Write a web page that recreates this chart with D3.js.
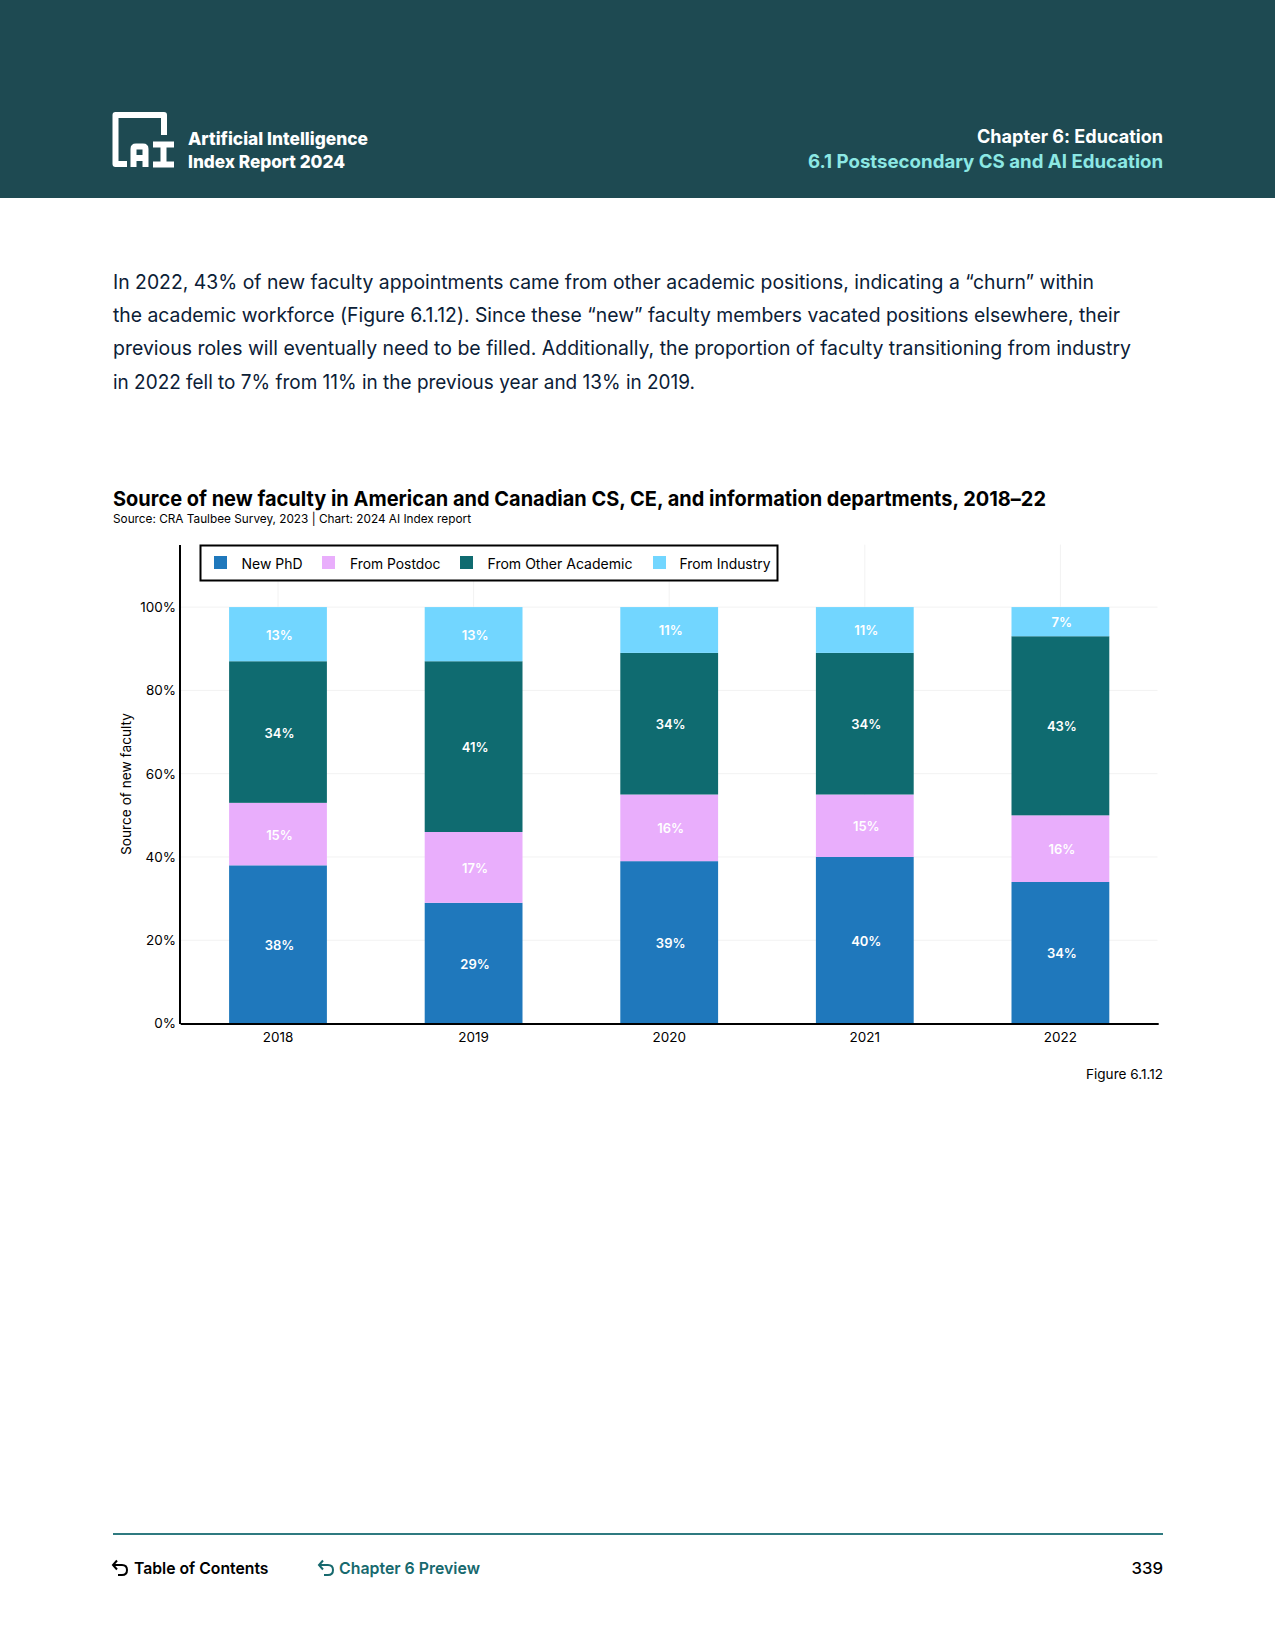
<!DOCTYPE html>
<html><head><meta charset="utf-8">
<script src="https://cdn.jsdelivr.net/npm/d3@7"></script>
<style>html,body{margin:0;padding:0;background:#fff}svg{display:block}text{font-family:Inter,sans-serif;font-variant-ligatures:none}</style>
</head><body><svg id="c" width="1275" height="1650"></svg>
<script>
const years=["2018","2019","2020","2021","2022"];
const seriesNames=["New PhD","From Postdoc","From Other Academic","From Industry"];
const newPhD=[38,29,39,40,34];
const fromPostdoc=[15,17,16,15,16];
const fromOtherAcademic=[34,41,34,34,43];
const fromIndustry=[13,13,11,11,7];
const colors=["#1f78bc","#e9aefc","#0f6b70","#72d6ff"];
const yTicks=[0,20,40,60,80,100];
const bodyLines=["In 2022, 43% of new faculty appointments came from other academic positions, indicating a “churn” within",
"the academic workforce (Figure 6.1.12). Since these “new” faculty members vacated positions elsewhere, their",
"previous roles will eventually need to be filled. Additionally, the proportion of faculty transitioning from industry",
"in 2022 fell to 7% from 11% in the previous year and 13% in 2019."];
const bodyWidths=[981,1007,1018,582];

const svg=d3.select("#c");
function T(x,y,s,o={}){const t=svg.append("text").attr("x",x).attr("y",y).text(s)
 .attr("font-size",o.size||14).attr("fill",o.fill||"#000").attr("font-weight",o.weight||400).attr("text-anchor",o.anchor||"start");
 if(o.width)t.attr("textLength",o.width).attr("lengthAdjust","spacingAndGlyphs");return t;}

// header
svg.append("rect").attr("width",1275).attr("height",198).attr("fill","#1e4a52");
svg.append("path").attr("d","M164 135V115H115.5V164H127").attr("fill","none").attr("stroke","#fff").attr("stroke-width",6).attr("stroke-linejoin","round");
svg.append("path").attr("d","M133.500 167V149Q133.500 146.500 136 146.500H143Q145.500 146.500 145.500 149V167M133.500 158H145.500M153 144.500H174M163.500 144.500V164.500M153 164.500H174").attr("fill","none").attr("stroke","#fff").attr("stroke-width",6);
T(188,144.500,"Artificial Intelligence",{size:18,weight:800,fill:"#fff",width:180});
T(188,167.500,"Index Report 2024",{size:18,weight:800,fill:"#fff",width:157});
T(1163,143,"Chapter 6: Education",{size:18.500,weight:700,fill:"#fff",anchor:"end",width:186});
T(1163,168,"6.1 Postsecondary CS and AI Education",{size:18.500,weight:700,fill:"#8ce8e4",anchor:"end",width:355});

// body
bodyLines.forEach((s,i)=>T(113,288.500+i*33.4,s,{size:20,fill:"#0b2036",width:bodyWidths[i]}));

// title
T(113,506,"Source of new faculty in American and Canadian CS, CE, and information departments, 2018–22",{size:20.500,weight:700,width:933});
T(113,523,"Source: CRA Taulbee Survey, 2023 | Chart: 2024 AI Index report",{size:12,width:358});

// chart
const x=d3.scaleBand().domain(years).range([180.2,1158.2]).paddingInner(0.5).paddingOuter(0.25);
const y=d3.scaleLinear().domain([0,115]).range([1023.6,544.6]);
const gx=svg.append("g").attr("stroke","#f2f2f2");
years.forEach(d=>gx.append("line").attr("x1",x(d)+x.bandwidth()/2).attr("x2",x(d)+x.bandwidth()/2).attr("y1",y(115)).attr("y2",y(0)));
yTicks.slice(1).forEach(d=>gx.append("line").attr("x1",179.5).attr("x2",1157.5).attr("y1",y(d)).attr("y2",y(d)));

const rows=years.map((yr,i)=>({yr,a:newPhD[i],b:fromPostdoc[i],c:fromOtherAcademic[i],d:fromIndustry[i]}));
const stack=d3.stack().keys(["a","b","c","d"])(rows);
stack.forEach((s,k)=>{
 const g=svg.append("g");
 g.selectAll("rect").data(s).join("rect").attr("x",d=>x(d.data.yr)).attr("width",x.bandwidth())
  .attr("y",d=>y(d[1])).attr("height",d=>y(d[0])-y(d[1])).attr("fill",colors[k]);
 g.selectAll("text").data(s).join("text").attr("x",d=>x(d.data.yr)+x.bandwidth()/2+1.5).attr("y",d=>y((d[0]+d[1])/2)+5.5)
  .attr("text-anchor","middle").attr("font-size",13).attr("font-weight",600).attr("fill","#fff").text(d=>(d[1]-d[0])+"%");
});

const ax=svg.append("g").attr("transform","translate(179.5,0)").call(d3.axisLeft(y).tickValues(yTicks).tickSize(0).tickPadding(3.5).tickFormat(d=>d+"%"));
ax.select(".domain").attr("stroke","#000").attr("stroke-width",2);
ax.selectAll("text").attr("font-size",13.500).attr("font-family","Inter").attr("fill","#000");
const bx=svg.append("g").attr("transform","translate(0,1023.6)").call(d3.axisBottom(x).tickSize(0).tickPadding(9));
bx.select(".domain").attr("stroke","#000").attr("stroke-width",2);
bx.selectAll("text").attr("font-size",13.500).attr("font-family","Inter").attr("fill","#000");
svg.append("text").attr("transform","translate(131,784) rotate(-90)").attr("text-anchor","middle").attr("font-size",13.500).attr("fill","#000").attr("textLength",142).attr("lengthAdjust","spacingAndGlyphs").text("Source of new faculty");

// legend
svg.append("rect").attr("x",200.500).attr("y",545.500).attr("width",577).attr("height",35).attr("fill","#fff").attr("stroke","#000").attr("stroke-width",2);
const legX=[214,322,460,653], legT=[241.500,350,487.500,679.500], legW=[61,90.5,145,91];
seriesNames.forEach((n,i)=>{
 svg.append("rect").attr("x",legX[i]).attr("y",556).attr("width",13).attr("height",13).attr("fill",colors[i]);
 T(legT[i],569,n,{size:14,width:legW[i]});
});

// footer
T(1163,1079,"Figure 6.1.12",{size:13.500,anchor:"end",width:77});
svg.append("rect").attr("x",113).attr("y",1533).attr("width",1050).attr("height",2).attr("fill","#2f7a80");
function arrow(ox,c){svg.append("path").attr("d",`M${ox+4} 1560.500L${ox} 1565L${ox+4} 1569.500M${ox} 1565H${ox+9}Q${ox+14} 1565 ${ox+14} 1570Q${ox+14} 1575 ${ox+9} 1575H${ox+5}`).attr("fill","none").attr("stroke",c).attr("stroke-width",2);}
arrow(113,"#000");arrow(319,"#17696e");
T(134,1574,"Table of Contents",{size:16.500,weight:600,width:134.500});
T(339,1574,"Chapter 6 Preview",{size:16.500,weight:600,fill:"#17696e",width:141});
T(1163,1574,"339",{size:16.500,weight:500,anchor:"end",width:31.600});
</script></body></html>
